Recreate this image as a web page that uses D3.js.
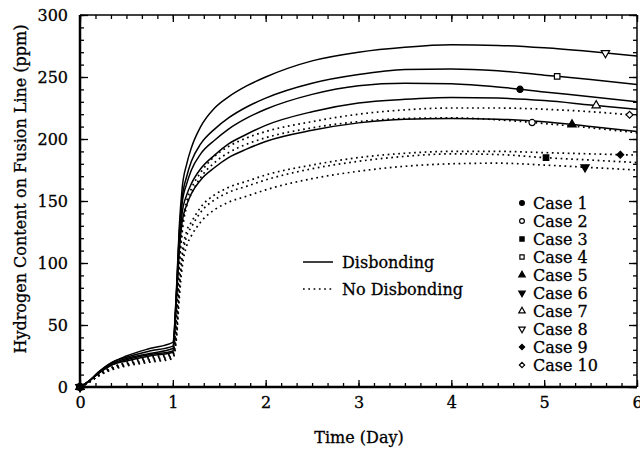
<!DOCTYPE html>
<html>
<head>
<meta charset="utf-8">
<script src="https://cdn.jsdelivr.net/npm/d3@7"></script>
<style>
  html, body { margin: 0; padding: 0; background: #fff; }
  svg { display: block; }
  text { font-family: "DejaVu Serif", serif; fill: #000; stroke: #000; stroke-width: 0.3px; }
</style>
</head>
<body>
<svg id="chart" width="640" height="449"></svg>
<script>
// ---- data ----
const times = [0, 0.1, 0.2, 0.35, 0.5, 0.75, 1.0, 1.04, 1.07, 1.1, 1.15, 1.2, 1.3, 1.45, 1.6, 1.8, 2, 2.5, 3, 3.5, 4, 4.5, 5, 5.5, 6];

const caseNames = ["Case 1", "Case 2", "Case 3", "Case 4", "Case 5", "Case 6", "Case 7", "Case 8", "Case 9", "Case 10"];
const caseDisbonding = [true, false, false, true, true, false, true, true, false, false];
const caseSymbols = ["circleFilled", "circleOpen", "squareFilled", "squareOpen", "triUpFilled", "triDownFilled", "triUpOpen", "triDownOpen", "diamondFilled", "diamondOpen"];
const caseMarkerTime = [4.74, 4.87, 5.02, 5.14, 5.3, 5.44, 5.56, 5.66, 5.82, 5.92];

const case1  = [0, 5, 12, 19, 23, 27, 31, 76, 122, 148, 164, 175, 188, 199, 208, 217, 224, 236, 243, 245, 244.5, 242, 238, 234, 230];
const case2  = [0, 4, 10, 16, 19, 23, 26, 58, 96, 124, 146, 156, 169, 181, 189, 196, 201, 209, 214, 216.5, 217, 215.5, 212.5, 209, 205];
const case3  = [0, 4, 9, 15, 18, 21, 24, 43, 78, 102, 122, 129, 141, 151, 157, 162, 167, 176, 182, 186, 188, 187.5, 185, 183, 181];
const case4  = [0, 5, 12, 20, 24, 29, 33, 78, 125, 152, 170, 182, 196, 208, 217, 226, 233, 245, 252, 256, 256.5, 255, 251.5, 248, 244];
const case5  = [0, 5, 11, 18, 21, 25, 28, 72, 110, 133, 147, 156, 167, 177, 185, 192, 198, 207, 213, 216, 216.5, 216, 214, 210, 206];
const case6  = [0, 4, 9, 14, 17, 20, 23, 40, 72, 96, 114, 122, 133, 143, 149, 154, 159, 168, 174, 178, 180, 180.5, 179, 177, 175];
const case7  = [0, 5, 11, 18, 22, 26, 29, 74, 115, 140, 155, 164, 176, 187, 196, 204, 211, 222, 229, 232, 233.5, 233, 231, 227.5, 224];
const case8  = [0, 5, 12, 20, 25, 31, 36, 80, 130, 160, 180, 193, 210, 225, 234, 243, 250, 263, 270, 274, 276, 275.5, 273.5, 270.5, 267];
const case9  = [0, 4, 9, 15, 18, 22, 25, 45, 82, 107, 126, 133, 145, 155, 161, 166, 171, 179, 185, 188.5, 190, 190, 189, 188, 187];
const case10 = [0, 4, 10, 16, 20, 24, 27, 60, 100, 128, 150, 160, 173, 186, 194, 201, 206, 214, 220, 223.5, 225, 225, 224, 222, 219];
const caseValues = [case1, case2, case3, case4, case5, case6, case7, case8, case9, case10];

const xTickValues = [0, 1, 2, 3, 4, 5, 6];
const yTickValues = [0, 50, 100, 150, 200, 250, 300];
const styleLabels = ["Disbonding", "No Disbonding"];

// ---- layout ----
const svg = d3.select("#chart");
const x = d3.scaleLinear().domain([0, 6]).range([80, 637]);
const y = d3.scaleLinear().domain([0, 300]).range([387, 15]);

const xMinor = d3.range(0, 36 + 1).map(i => i / 6);
const yMinor = d3.range(0, 31).map(i => i * 10);

function styleAxis(g) {
  g.selectAll(".domain").remove();
  g.selectAll("line").attr("stroke", "#000").attr("stroke-width", 1.3);
  g.selectAll("text").attr("font-size", 16).attr("font-family", "DejaVu Serif");
}

// minor ticks
svg.append("g").attr("transform", `translate(0,387)`)
  .call(d3.axisBottom(x).tickValues(xMinor).tickSize(-4).tickFormat("")).call(styleAxis);
svg.append("g").attr("transform", `translate(0,15)`)
  .call(d3.axisTop(x).tickValues(xMinor).tickSize(-4).tickFormat("")).call(styleAxis);
svg.append("g").attr("transform", `translate(80,0)`)
  .call(d3.axisLeft(y).tickValues(yMinor).tickSize(-4).tickFormat("")).call(styleAxis);
svg.append("g").attr("transform", `translate(637,0)`)
  .call(d3.axisRight(y).tickValues(yMinor).tickSize(-4).tickFormat("")).call(styleAxis);

// major ticks
svg.append("g").attr("transform", `translate(0,387)`)
  .call(d3.axisBottom(x).tickValues(xTickValues).tickSize(-7).tickPadding(10).tickFormat(d3.format("d"))).call(styleAxis);
svg.append("g").attr("transform", `translate(0,15)`)
  .call(d3.axisTop(x).tickValues(xTickValues).tickSize(-7).tickFormat("")).call(styleAxis);
svg.append("g").attr("transform", `translate(80,0)`)
  .call(d3.axisLeft(y).tickValues(yTickValues).tickSize(-8).tickPadding(12).tickFormat(d3.format("d"))).call(styleAxis);
svg.append("g").attr("transform", `translate(637,0)`)
  .call(d3.axisRight(y).tickValues(yTickValues).tickSize(-8).tickFormat("")).call(styleAxis);

// frame
svg.append("line").attr("x1", x(0)).attr("x2", x(6)).attr("y1", y(300)).attr("y2", y(300)).attr("stroke", "#000").attr("stroke-width", 1.5);
svg.append("line").attr("x1", x(6)).attr("x2", x(6)).attr("y1", y(0)).attr("y2", y(300)).attr("stroke", "#000").attr("stroke-width", 1.5);
svg.append("line").attr("x1", x(0)).attr("x2", x(6)).attr("y1", y(0)).attr("y2", y(0)).attr("stroke", "#000").attr("stroke-width", 2.5);
svg.append("line").attr("x1", x(0)).attr("x2", x(0)).attr("y1", y(0) + 1.2).attr("y2", y(300)).attr("stroke", "#000").attr("stroke-width", 2.5);

// curves
const line = d3.line().x(d => x(d[0])).y(d => y(d[1])).curve(d3.curveMonotoneX);
const curvesG = svg.append("g");
caseValues.forEach((vals, i) => {
  const pts = times.map((t, j) => [t, vals[j]]);
  curvesG.append("path")
    .attr("d", line(pts))
    .attr("fill", "none")
    .attr("stroke", "#000")
    .attr("stroke-width", caseDisbonding[i] ? 1.5 : 1.7)
    .attr("stroke-dasharray", caseDisbonding[i] ? null : "1.7,3.6")
    .attr("stroke-linecap", "butt");
});

// symbols
function symbolPath(kind, size) {
  if (kind.startsWith("circle")) return d3.symbol(d3.symbolCircle, size)();
  if (kind.startsWith("square")) return d3.symbol(d3.symbolSquare, size)();
  if (kind.startsWith("triUp") || kind.startsWith("triDown")) return d3.symbol(d3.symbolTriangle, size)();
  return d3.symbol(d3.symbolDiamond2, size)();
}
function drawSymbol(g, kind, cx, cy, size, forceFill) {
  const filled = forceFill || kind.endsWith("Filled");
  const rot = kind.startsWith("triDown") ? 180 : 0;
  g.append("path")
    .attr("d", symbolPath(kind, size))
    .attr("transform", `translate(${cx},${cy}) rotate(${rot})`)
    .attr("fill", filled ? "#000" : "#fff")
    .attr("stroke", "#000")
    .attr("stroke-width", 1.2);
}
function valueAt(vals, t) {
  const i = d3.bisectLeft(times, t);
  if (i <= 0) return vals[0];
  const t0 = times[i - 1], t1 = times[i];
  return vals[i - 1] + (vals[i] - vals[i - 1]) * (t - t0) / (t1 - t0);
}
const markG = svg.append("g");
caseValues.forEach((vals, i) => {
  drawSymbol(markG, caseSymbols[i], x(0), y(vals[0]), 30, true);
});
caseValues.forEach((vals, i) => {
  const t = caseMarkerTime[i];
  drawSymbol(markG, caseSymbols[i], x(t), y(valueAt(vals, t)), 30);
});

// case legend
const legG = svg.append("g");
caseNames.forEach((name, i) => {
  const cy = 203 + i * 18;
  drawSymbol(legG, caseSymbols[i], 522, cy, 18);
  legG.append("text").attr("x", 533).attr("y", cy).attr("dy", "0.36em")
    .attr("font-size", 16).text(name);
});

// line style legend
styleLabels.forEach((lab, i) => {
  const cy = 262 + i * 27;
  svg.append("line").attr("x1", 303).attr("x2", 333).attr("y1", cy).attr("y2", cy)
    .attr("stroke", "#000").attr("stroke-width", 1.5)
    .attr("stroke-dasharray", i === 0 ? null : "1.7,3.6");
  svg.append("text").attr("x", 342).attr("y", cy).attr("dy", "0.36em")
    .attr("font-size", 16).text(lab);
});

// axis titles
svg.append("text").attr("x", 359).attr("y", 437).attr("dy", "0.36em")
  .attr("text-anchor", "middle").attr("font-size", 16).text("Time (Day)");
svg.append("text").attr("transform", "translate(20,189) rotate(-90)")
  .attr("dy", "0.36em").attr("text-anchor", "middle").attr("font-size", 16)
  .text("Hydrogen Content on Fusion Line (ppm)");
</script>
</body>
</html>
